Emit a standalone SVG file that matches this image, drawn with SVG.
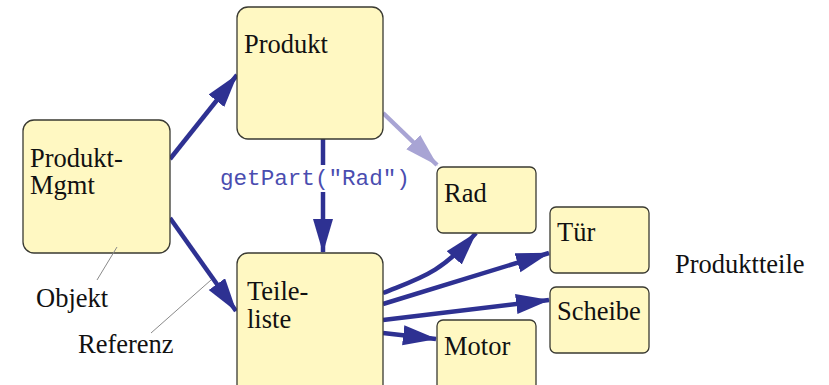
<svg xmlns="http://www.w3.org/2000/svg" width="829" height="385" viewBox="0 0 829 385">
  <style>
    .box { fill: #fff8c2; stroke: #3a3a32; stroke-width: 1.3; }
    .lbl { font-family: "Liberation Serif", "Times New Roman", serif; font-size: 26.5px; fill: #111; }
    .ref { fill: none; stroke: #2e3192; stroke-width: 4.5; marker-end: url(#head); }
    .ref-light { fill: none; stroke: #a8a4d4; stroke-width: 4.5; marker-end: url(#head-light); }
    .lead { stroke: #8a8a8a; stroke-width: 1; fill: none; }
    .code { font-family: "Liberation Mono", "Courier New", monospace; font-size: 22.6px; fill: #4a4db0; }
  </style>
  <defs>
    <marker id="head" markerUnits="userSpaceOnUse" markerWidth="36" markerHeight="22" refX="33" refY="10" orient="auto">
      <path d="M0,0 L34,10 L0,20 Z" fill="#2e3192"/>
    </marker>
    <marker id="head-light" markerUnits="userSpaceOnUse" markerWidth="36" markerHeight="22" refX="33" refY="10" orient="auto">
      <path d="M0,0 L34,10 L0,20 Z" fill="#a8a4d4"/>
    </marker>
  </defs>

  <!-- connectors -->
  <g id="connectors">
    <line class="ref" x1="170" y1="159" x2="237" y2="75"/>
    <line class="ref" x1="170" y1="218" x2="236" y2="311"/>
    <line x1="323" y1="139" x2="323" y2="165" stroke="#2e3192" stroke-width="4.5"/>
    <line class="ref" x1="323" y1="192" x2="323" y2="252"/>
    <line class="ref-light" x1="383" y1="113" x2="437" y2="165"/>
    <path class="ref" d="M383,293 C420,278 440,274 476,233"/>
    <line class="ref" x1="383" y1="304" x2="549" y2="253"/>
    <line class="ref" x1="383" y1="320" x2="549" y2="300"/>
    <line class="ref" x1="383" y1="333" x2="436" y2="339"/>
    <text class="code" x="220" y="185">getPart("Rad")</text>
  </g>

  <!-- object nodes -->
  <g id="produkt">
    <rect class="box" x="237" y="7" width="146" height="132" rx="11"/>
    <text class="lbl" x="244" y="53">Produkt</text>
  </g>
  <g id="produkt-mgmt">
    <rect class="box" x="23" y="120" width="147" height="133" rx="11"/>
    <text class="lbl" x="30" y="167">Produkt-</text>
    <text class="lbl" x="30" y="194">Mgmt</text>
  </g>
  <g id="teileliste">
    <rect class="box" x="237" y="253" width="146" height="145" rx="11"/>
    <text class="lbl" x="247" y="300">Teile-</text>
    <text class="lbl" x="247" y="328">liste</text>
  </g>
  <g id="rad">
    <rect class="box" x="437" y="167" width="99" height="66" rx="6"/>
    <text class="lbl" x="444" y="202">Rad</text>
  </g>
  <g id="tuer">
    <rect class="box" x="550" y="207" width="99" height="66" rx="6"/>
    <text class="lbl" x="557" y="241">Tür</text>
  </g>
  <g id="scheibe">
    <rect class="box" x="550" y="287" width="99" height="66" rx="6"/>
    <text class="lbl" x="557" y="320">Scheibe</text>
  </g>
  <g id="motor">
    <rect class="box" x="437" y="320" width="99" height="80" rx="6"/>
    <text class="lbl" x="444" y="355">Motor</text>
  </g>

  <!-- annotations -->
  <g id="annotations">
    <line class="lead" x1="117" y1="247" x2="97" y2="280"/>
    <line class="lead" x1="211" y1="280" x2="151" y2="333"/>
    <text class="lbl" x="36" y="307">Objekt</text>
    <text class="lbl" x="78" y="353">Referenz</text>
    <text class="lbl" x="675" y="273">Produktteile</text>
  </g>
</svg>
